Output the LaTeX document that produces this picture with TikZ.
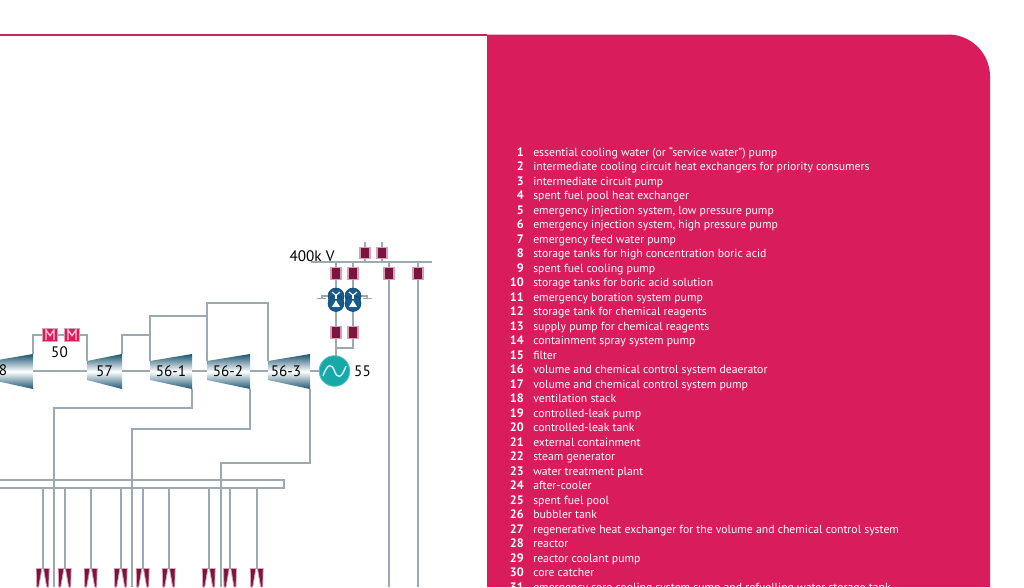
\documentclass[tikz,border=0pt]{standalone}
\usepackage{fontspec}
\setmainfont{PT Sans}
\definecolor{crim}{HTML}{D91C5C}
\definecolor{pipe}{HTML}{9BA9B3}
\definecolor{wine}{HTML}{7A1540}
\definecolor{wineedge}{HTML}{D9A0B4}
\definecolor{turbdark}{HTML}{1A5670}
\definecolor{gen}{HTML}{16A9A8}
\definecolor{tblue}{HTML}{155B8E}
\tikzset{
  pipeline/.style={draw=pipe,line width=1.2pt},
  turb/.style={top color=turbdark,bottom color=turbdark,middle color=white,draw=none},
  breaker/.style={draw=wineedge,fill=wine,line width=0.8pt,minimum width=7.5pt,minimum height=8.5pt,inner sep=0pt},
  motor/.style={draw=wineedge,fill=crim,line width=0.9pt,minimum width=11pt,minimum height=10pt,inner sep=0pt},
  lab/.style={font=\fontsize{11.4pt}{12pt}\selectfont,inner sep=0pt,text=black},
  num/.style={font=\fontsize{9.2pt}{11pt}\selectfont\bfseries,text=white,anchor=base east,inner sep=0pt},
  item/.style={font=\fontsize{8.8pt}{11pt}\selectfont,text=white,anchor=base west,inner sep=0pt},
  coil/.style={circle,draw=tblue!70!black,fill=tblue,minimum size=12pt,inner sep=0pt}
}
\newcommand{\turbine}[3]{%
  \path[turb] (#2,361) -- (#3,354) -- (#3,389) -- (#2,380) -- cycle;
  \coordinate (#1w) at (#2,371);
  \coordinate (#1e) at (#3,371);
  \coordinate (#1tl) at (#2,361);
  \coordinate (#1tr) at (#3,354);
  \coordinate (#1br) at (#3,389);
}
\newcommand{\nozzle}[2]{%
  \coordinate (#1) at (#2,569);
  \path[fill=wine,draw=wineedge,line width=0.6pt] (#2-6.5,568.5) -- (#2-0.8,568.5) -- (#2-4,587) -- (#2-6,587) -- cycle;
  \path[fill=wine,draw=wineedge,line width=0.6pt] (#2+6.5,568.5) -- (#2+0.8,568.5) -- (#2+4,587) -- (#2+6,587) -- cycle;
}
\begin{document}
\begin{tikzpicture}[x=0.75pt,y=-0.75pt]
\useasboundingbox (0,0) rectangle (1024,587);
\clip (0,0) rectangle (1024,587);
\fill[white] (0,0) rectangle (1024,587);
\draw[crim,line width=1.1pt] (0,35) -- (487,35);
\fill[crim] (487,34.5) -- (948,34.5) arc[start angle=90,end angle=0,radius=31.5pt] -- (990,587) -- (487,587) -- cycle;
\coordinate (hdrL) at (-5,480);
\coordinate (hdrR) at (284,488);
\draw[pipeline,fill=white] (hdrL) rectangle (hdrR);
\turbine{t8}{-8}{33}
\turbine{t57}{87}{122}
\turbine{ta}{150}{192}
\turbine{tb}{207}{250}
\turbine{tc}{268}{310}
\node[lab] (n8) at (3,370) {8};
\node[lab] (n57) at (104.5,371) {57};
\node[lab] (n561) at (171,371) {56-1};
\node[lab] (n562) at (228,371) {56-2};
\node[lab] (n563) at (286,371) {56-3};
\node[lab] (n50) at (59.5,352) {50};
\node[lab] (n55) at (362.5,371) {55};
\node[lab] (n400) at (312,256) {400k V};
\node[circle,fill=gen,draw=gen!70!white,line width=0.6pt,minimum size=23pt,inner sep=0pt] (gen) at (334.5,371) {};
\draw[white!80!gen,line width=1.1pt] (323,376) .. controls (328,362) and (332,364) .. (334.5,371) .. controls (337,378) and (341,380) .. (346,366);
\node[motor] (m1) at (50,335) {};
\node[motor] (m2) at (72,335) {};
\foreach \m in {m1,m2}{
  \draw[white!75!crim,line width=1pt] ([xshift=-3pt,yshift=-3.8pt]\m.center) -- ([xshift=-3pt,yshift=3.8pt]\m.center) -- ([yshift=-0.5pt]\m.center) -- ([xshift=3pt,yshift=3.8pt]\m.center) -- ([xshift=3pt,yshift=-3.8pt]\m.center);
}
\draw[pipeline] (t8e) -- (t57w);
\draw[pipeline] (33,354) |- (m1.west);
\draw[pipeline] (m1.east) -- (m2.west);
\draw[pipeline] (m2.east) -| (t57tl);
\draw[pipeline] (t57e) -- (taw);
\draw[pipeline] (t57tr) |- (150,335);
\draw[pipeline] (tatl) |- (207,316);
\draw[pipeline] (tae) -- (tbw);
\draw[pipeline] (tbtl) |- (268,303) -- (tctl);
\draw[pipeline] (tbe) -- (tcw);
\draw[pipeline] (tce) -- (gen.west);
\coordinate (d1) at (54,587);
\coordinate (d2) at (132,587);
\coordinate (d3) at (221,587);
\draw[pipeline] (tabr) |- (54,408) -- (d1);
\draw[pipeline] (tbbr) |- (132,429) -- (d2);
\draw[pipeline] (tcbr) |- (221,463) -- (d3);
\foreach \i/\x in {a/42.7,b/64.7,c/90.7,d/120.7,e/142.7,f/168.7,g/208.7,h/230,i/256.7}{
  \nozzle{nz\i}{\x}
  \coordinate (hd\i) at (\x,488);
  \draw[pipeline] (hd\i) -- (nz\i);
}
\coordinate (busW) at (311,262);
\coordinate (busE) at (432,262);
\draw[pipeline] (busW) -- (busE);
\coordinate (u1) at (365,242);
\coordinate (u2) at (382,242);
\draw[pipeline] (u1) -- (365,262);
\draw[pipeline] (u2) -- (382,262);
\node[breaker] (b1) at (365,253) {};
\node[breaker] (b2) at (382,253) {};
\draw[pipeline] (336,262) -- (336,356);
\draw[pipeline] (353,262) -- (353,348) -- (336,348);
\coordinate (o3) at (389,587);
\coordinate (o4) at (418,587);
\draw[pipeline] (389,262) -- (o3);
\draw[pipeline] (418,262) -- (o4);
\node[breaker] (c1) at (336,273.5) {};
\node[breaker] (c2) at (353,273.5) {};
\node[breaker] (c3) at (389,273.5) {};
\node[breaker] (c4) at (418,273.5) {};
\node[breaker] (e1) at (336,332.5) {};
\node[breaker] (e2) at (353,332.5) {};
\draw[pipeline,line width=0.8pt] (328,296) -- (322,296) -- (322,298.5);
\draw[pipeline,line width=0.8pt] (317,298.5) -- (326,298.5);
\draw[pipeline,line width=0.8pt] (361,296) -- (367,296) -- (367,298.5);
\draw[pipeline,line width=0.8pt] (363,298.5) -- (372,298.5);
\node[coil] (ta1) at (336,296) {};
\node[coil] (tb1) at (336,303.5) {};
\node[coil] (ta2) at (353,296) {};
\node[coil] (tb2) at (353,303.5) {};
\foreach \t in {ta1,ta2}{\draw[white,line width=0.9pt] ([xshift=-3pt,yshift=3pt]\t.center) -- ([yshift=0.5pt]\t.center) -- ([xshift=3pt,yshift=3pt]\t.center);
\draw[white,line width=0.9pt] ([yshift=0.5pt]\t.center) -- ([yshift=-2.5pt]\t.center);}
\foreach \t in {tb1,tb2}{\fill[white] ([xshift=-3pt,yshift=-2.5pt]\t.center) -- ([yshift=2.5pt]\t.center) -- ([xshift=3pt,yshift=-2.5pt]\t.center) -- cycle;}
\foreach \n/\t in {1/essential cooling water (or “service water”) pump,
2/intermediate cooling circuit heat exchangers for priority consumers,
3/intermediate circuit pump,
4/spent fuel pool heat exchanger,
5/{emergency injection system, low pressure pump},
6/{emergency injection system, high pressure pump},
7/emergency feed water pump,
8/storage tanks for high concentration boric acid,
9/spent fuel cooling pump,
10/storage tanks for boric acid solution,
11/emergency boration system pump,
12/storage tank for chemical reagents,
13/supply pump for chemical reagents,
14/containment spray system pump,
15/filter,
16/volume and chemical control system deaerator,
17/volume and chemical control system pump,
18/ventilation stack,
19/controlled-leak pump,
20/controlled-leak tank,
21/external containment,
22/steam generator,
23/water treatment plant,
24/after-cooler,
25/spent fuel pool,
26/bubbler tank,
27/regenerative heat exchanger for the volume and chemical control system,
28/reactor,
29/reactor coolant pump,
30/core catcher,
31/emergency core cooling system sump and refuelling water storage tank}{
  \pgfmathsetmacro{\yy}{156+14.5*(\n-1)}
  \node[num] (k\n) at (524,\yy) {\n};
  \node[item] (v\n) at (533,\yy) {\t};
}
\end{tikzpicture}
\end{document}
